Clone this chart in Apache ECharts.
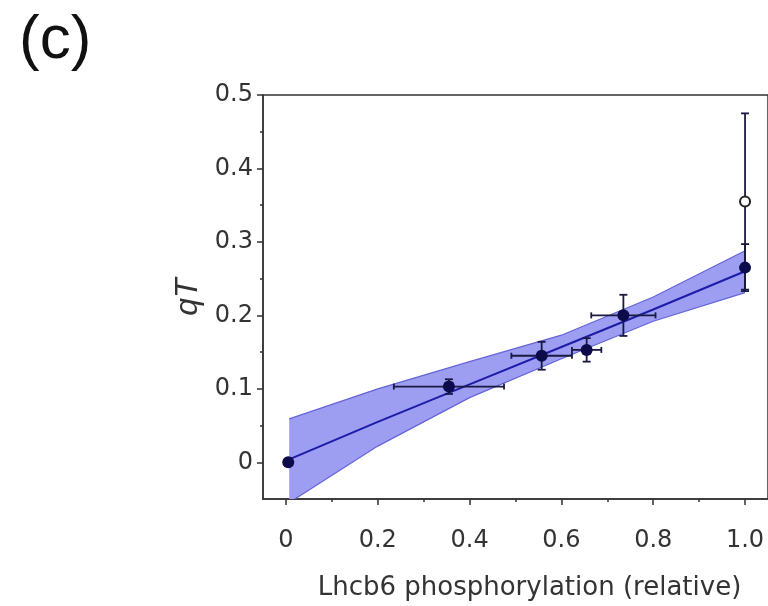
<!DOCTYPE html>
<html>
<head>
<meta charset="utf-8">
<script src="https://cdn.jsdelivr.net/npm/echarts@6/dist/echarts.min.js"></script>
<style>
html, body { margin: 0; padding: 0; background: #fff; }
#main { width: 768px; height: 606px; }
</style>
</head>
<body>
<div id="main"></div>
<script>
// measured points (Lhcb6 phosphorylation vs qT)
var pointX = [0.005, 0.355, 0.557, 0.655, 0.735, 1.0];
var pointY = [0.0, 0.103, 0.145, 0.153, 0.200, 0.265];
var xErr = [0, 0.120, 0.066, 0.032, 0.070, 0];
var yErr = [0, 0.010, 0.019, 0.016, 0.028, 0.032];

// excluded point (open circle)
var openX = [1.0];
var openY = [0.355];
var openYErr = [0.12];

// linear fit and confidence band
var bandX = [0.007, 0.2, 0.4, 0.6, 0.8, 1.0];
var fitY = [0.004, 0.055, 0.106, 0.157, 0.208, 0.260];
var bandUpper = [0.059, 0.100, 0.137, 0.173, 0.225, 0.288];
var bandLower = [-0.055, 0.022, 0.088, 0.141, 0.192, 0.231];

// tick values and labels
var xTicks = [0, 0.2, 0.4, 0.6, 0.8, 1.0];
var xTickLabels = ['0', '0.2', '0.4', '0.6', '0.8', '1.0'];
var xMinor = [0.1, 0.3, 0.5, 0.7, 0.9];
var yTicks = [0, 0.1, 0.2, 0.3, 0.4, 0.5];
var yTickLabels = ['0', '0.1', '0.2', '0.3', '0.4', '0.5'];
var yMinor = [0.05, 0.15, 0.25, 0.35, 0.45];

var axisColor = '#333';
var textColor = '#333';

function labelFor(ticks, labels) {
	return function (v) {
		for (var i = 0; i < ticks.length; i++) {
			if (Math.abs(ticks[i] - v) < 1e-6) return labels[i];
		}
		return '';
	};
}

var errData = [];
for (var i = 0; i < pointX.length; i++) {
	errData.push([pointX[i], pointY[i], xErr[i], yErr[i]]);
}
for (var j = 0; j < openX.length; j++) {
	errData.push([openX[j], openY[j], 0, openYErr[j]]);
}

var chart = echarts.init(document.getElementById('main'));

var option = {
	animation: false,
	grid: {
		left: 263, top: 95, width: 506, height: 407,
		show: true, borderColor: axisColor, borderWidth: 1.5,
		backgroundColor: 'transparent'
	},
	xAxis: [{
		type: 'value', min: -0.05, max: 1.05, position: 'bottom',
		axisLine: { show: true, onZero: false, lineStyle: { color: axisColor, width: 1.5 } },
		axisTick: { show: true, customValues: xTicks, length: 6, lineStyle: { color: axisColor, width: 1.5 } },
		axisLabel: {
			customValues: xTicks, formatter: labelFor(xTicks, xTickLabels),
			fontFamily: 'DejaVu Sans', fontSize: 24, color: textColor, margin: 30
		},
		splitLine: { show: false },
		name: 'Lhcb6 phosphorylation (relative)', nameLocation: 'middle', nameGap: 76,
		nameTextStyle: { fontFamily: 'DejaVu Sans', fontSize: 26, color: textColor, padding: [0, 0, 0, 28] }
	}, {
		type: 'value', min: -0.05, max: 1.05, position: 'bottom', offset: 0,
		axisLine: { show: false, onZero: false },
		axisTick: { show: true, customValues: xMinor, length: 3, lineStyle: { color: axisColor, width: 1.5 } },
		axisLabel: { show: false },
		splitLine: { show: false }
	}],
	yAxis: [{
		type: 'value', min: -0.05, max: 0.5, position: 'left',
		axisLine: { show: true, onZero: false, lineStyle: { color: axisColor, width: 1.5 } },
		axisTick: { show: true, customValues: yTicks, length: 6, lineStyle: { color: axisColor, width: 1.5 } },
		axisLabel: {
			customValues: yTicks, formatter: labelFor(yTicks, yTickLabels),
			fontFamily: 'DejaVu Sans', fontSize: 24, color: textColor, margin: 10
		},
		splitLine: { show: false },
		name: 'qT', nameLocation: 'middle', nameGap: 52, nameRotate: 90,
		nameTextStyle: { fontFamily: 'Liberation Sans', fontStyle: 'italic', fontSize: 32, color: textColor }
	}, {
		type: 'value', min: -0.05, max: 0.5, position: 'left', offset: 0,
		axisLine: { show: false, onZero: false },
		axisTick: { show: true, customValues: yMinor, length: 3, lineStyle: { color: axisColor, width: 1.5 } },
		axisLabel: { show: false },
		splitLine: { show: false }
	}],
	graphic: [{
		type: 'text', left: 19, top: 10,
		style: { text: '(c)', fontFamily: 'Liberation Sans', fontSize: 62, fill: '#111' }
	}],
	series: [
		{
			// confidence band polygon
			type: 'custom', clip: true, z: 1,
			data: [0],
			renderItem: function (params, api) {
				var up = [], lo = [];
				for (var n = 0; n < bandX.length; n++) {
					up.push(api.coord([bandX[n], bandUpper[n]]));
					lo.push(api.coord([bandX[n], bandLower[n]]));
				}
				var pts = up.concat(lo.slice().reverse());
				return {
					type: 'group',
					children: [
						{ type: 'polygon', shape: { points: pts }, style: { fill: '#9d9df2', stroke: null } },
						{ type: 'polyline', shape: { points: up }, style: { fill: null, stroke: '#6464d8', lineWidth: 1.2 } },
						{ type: 'polyline', shape: { points: lo }, style: { fill: null, stroke: '#6464d8', lineWidth: 1.2 } }
					]
				};
			}
		},
		{
			// fit line
			type: 'line', z: 2, symbol: 'none',
			data: bandX.map(function (x, k) { return [x, fitY[k]]; }),
			lineStyle: { color: '#1c1ca8', width: 2 }
		},
		{
			// error bars
			type: 'custom', z: 3,
			data: errData,
			renderItem: function (params, api) {
				var x = api.value(0), y = api.value(1), dx = api.value(2), dy = api.value(3);
				var kids = [];
				var st = { stroke: '#1a1a40', lineWidth: 1.8 };
				if (dx > 0) {
					var l = api.coord([x - dx, y]), r = api.coord([x + dx, y]);
					kids.push({ type: 'line', shape: { x1: l[0], y1: l[1], x2: r[0], y2: r[1] }, style: st });
					kids.push({ type: 'line', shape: { x1: l[0], y1: l[1] - 3, x2: l[0], y2: l[1] + 3 }, style: st });
					kids.push({ type: 'line', shape: { x1: r[0], y1: r[1] - 3, x2: r[0], y2: r[1] + 3 }, style: st });
				}
				if (dy > 0) {
					var t = api.coord([x, y + dy]), b = api.coord([x, y - dy]);
					kids.push({ type: 'line', shape: { x1: t[0], y1: t[1], x2: b[0], y2: b[1] }, style: st });
					kids.push({ type: 'line', shape: { x1: t[0] - 4, y1: t[1], x2: t[0] + 4, y2: t[1] }, style: st });
					kids.push({ type: 'line', shape: { x1: b[0] - 4, y1: b[1], x2: b[0] + 4, y2: b[1] }, style: st });
				}
				return { type: 'group', children: kids };
			}
		},
		{
			// measured points
			type: 'scatter', z: 4, symbol: 'circle', symbolSize: 12,
			data: pointX.map(function (x, k) { return [x, pointY[k]]; }),
			itemStyle: { color: '#0c0c4a', opacity: 1 }
		},
		{
			// excluded point
			type: 'scatter', z: 4, symbol: 'circle', symbolSize: 10,
			data: openX.map(function (x, k) { return [x, openY[k]]; }),
			itemStyle: { color: '#fff', borderColor: '#222', borderWidth: 2, opacity: 1 }
		}
	]
};

chart.setOption(option);
</script>
</body>
</html>
